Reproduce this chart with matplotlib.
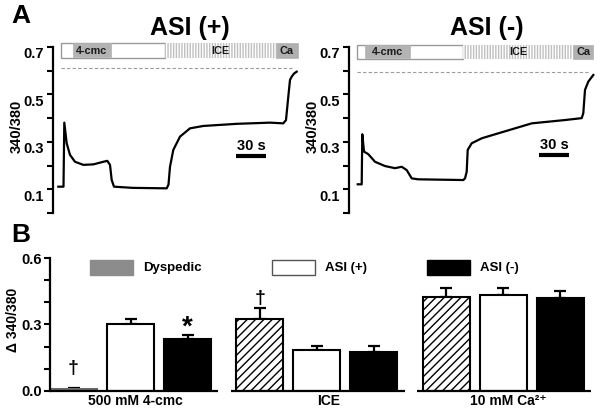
import matplotlib
matplotlib.use("Agg")
import matplotlib.pyplot as plt
from matplotlib.patches import Rectangle
from matplotlib.transforms import ScaledTranslation
import numpy as np

plt.rcParams['font.family'] = ['Liberation Sans', 'DejaVu Sans']
plt.rcParams['font.weight'] = 'bold'
plt.rcParams['hatch.linewidth'] = 1.0

# ---------------- Panel A data (time in s, ratio 340/380) ----------------
t_pos = [5.8, 11.0, 11.8, 14.2, 17.5, 22.5, 30.8, 40.8, 50.8, 54.8, 57.5, 59.2, 61.5,
         80.0, 114.2, 116.0, 117.5, 120.8, 127.5, 137.5, 150.8, 184.2, 217.5, 230.8,
         233.5, 235.8, 237.5, 239.2, 241.5, 244.2]
r_pos = [0.111, 0.111, 0.381, 0.294, 0.245, 0.216, 0.203, 0.205, 0.216, 0.220, 0.203,
         0.139, 0.111, 0.106, 0.104, 0.120, 0.195, 0.266, 0.322, 0.357, 0.367, 0.376,
         0.381, 0.378, 0.392, 0.491, 0.561, 0.575, 0.588, 0.596]

t_neg = [9.2, 13.2, 13.8, 15.5, 19.8, 26.5, 36.5, 46.5, 53.2, 58.2, 63.2, 69.8, 114.8,
         116.5, 118.2, 119.2, 123.2, 133.2, 149.8, 166.5, 183.2, 199.8, 216.5, 233.2,
         234.8, 236.5, 239.8, 244.8]
r_neg = [0.121, 0.121, 0.332, 0.259, 0.248, 0.216, 0.198, 0.189, 0.195, 0.181, 0.146,
         0.142, 0.139, 0.146, 0.174, 0.266, 0.294, 0.315, 0.336, 0.357, 0.378, 0.385,
         0.392, 0.400, 0.421, 0.519, 0.554, 0.582]

dash_pos = 0.610
dash_neg = 0.596

# stimulus protocol (start, end) in s
stim_pos = {'box': (8.0, 112.0), '4-cmc': (20.3, 58.7), 'ICE': (112.0, 223.7), 'Ca': (223.7, 245.3)}
stim_neg = {'box': (8.8, 114.2), '4-cmc': (16.5, 61.5), 'ICE': (114.2, 224.8), 'Ca': (224.8, 244.8)}

# ---------------- Panel B data ----------------
groups = ['500 mM 4-cmc', 'ICE', '10 mM Ca²⁺']
series = ['Dyspedic', 'ASI (+)', 'ASI (-)']
dysp = [0.008, 0.327, 0.426]
dysp_err = [0.003, 0.046, 0.041]
asi_pos = [0.300, 0.183, 0.432]
asi_pos_err = [0.026, 0.021, 0.035]
asi_neg = [0.236, 0.174, 0.422]
asi_neg_err = [0.018, 0.027, 0.030]

W, H = 600, 415
fig = plt.figure(figsize=(6, 4.15), dpi=100)


def fbox(x, y_top, w, h):
    return [x / W, 1 - (y_top + h) / H, w / W, h / H]


def panelA(left_px, t, r, dash, stim, title, title_x):
    ax = fig.add_axes(fbox(left_px, 40, 248, 173))
    ax.set_xlim(0, 248)
    ax.set_ylim(0.0, 0.7295)
    ax.plot(t, r, color='black', lw=1.6, solid_joinstyle='round')
    ax.hlines(dash, stim['box'][0], 239, colors='#9a9a9a', linestyles=(0, (3, 2)), lw=0.8)
    for s in ['top', 'right', 'bottom']:
        ax.spines[s].set_visible(False)
    ax.spines['left'].set_linewidth(1.6)
    ax.spines['left'].set_bounds(0.0, 0.7)
    ax.set_xticks([])
    ax.set_yticks([0.1, 0.3, 0.5, 0.7])
    ax.set_yticks([0.0, 0.2, 0.4, 0.6], minor=True)
    ax.set_yticklabels(['0.1', '0.3', '0.5', '0.7'], fontsize=10.5, fontweight='bold')
    ax.tick_params(axis='y', which='both', length=4, width=1.5, direction='out', pad=2)
    off = ScaledTranslation(0, -6 / 100, fig.dpi_scale_trans)
    for lab in ax.get_yticklabels():
        lab.set_transform(lab.get_transform() + off)
    ax.set_ylabel('340/380', fontsize=10.5, fontweight='bold', labelpad=0)
    # stimulus bar
    y0, y1 = (0.653, 0.716) if dash > 0.6 else (0.649, 0.709)
    h = y1 - y0
    b0, b1 = stim['box']
    ax.add_patch(Rectangle((b0, y0), b1 - b0, h, facecolor='white', edgecolor='#9a9a9a', lw=1.0, clip_on=False))
    c0, c1 = stim['4-cmc']
    ax.add_patch(Rectangle((c0, y0 + 0.004), c1 - c0, h - 0.004, facecolor='#b3b3b3', edgecolor='#b3b3b3', lw=0.5, clip_on=False))
    i0, i1 = stim['ICE']
    ax.add_patch(Rectangle((i0, y0), i1 - i0, h, facecolor='white', edgecolor='#c0c0c0', hatch='||||||', lw=0, clip_on=False))
    a0, a1 = stim['Ca']
    ax.add_patch(Rectangle((a0, y0), a1 - a0, h, facecolor='#b0b0b0', edgecolor='#b0b0b0', lw=0.5, clip_on=False))
    ym = y0 + h / 2
    ax.text((c0 + c1) / 2, ym, '4-cmc', ha='center', va='center', fontsize=7.8, fontweight='bold', color='#1a1a1a')
    ax.text((i0 + i1) / 2, ym, 'ICE', ha='center', va='center', fontsize=7.8, fontweight='bold', color='#1a1a1a')
    ax.text((a0 + a1) / 2, ym, 'Ca', ha='center', va='center', fontsize=7.8, fontweight='bold', color='#1a1a1a')
    fig.text(title_x / W, 1 - 28 / H, title, ha='center', va='center', fontsize=18, fontweight='bold')
    return ax


axL = panelA(52.5, t_pos, r_pos, dash_pos, stim_pos, 'ASI (+)', 190)
axR = panelA(348.5, t_neg, r_neg, dash_neg, stim_neg, 'ASI (-)', 487)

# scale bars
axL.hlines(0.240, 183.5, 213.5, colors='black', lw=3)
axL.text(198.5, 0.283, '30 s', ha='center', va='center', fontsize=10.5, fontweight='bold')
axR.hlines(0.245, 190.5, 220.5, colors='black', lw=3)
axR.text(205.5, 0.288, '30 s', ha='center', va='center', fontsize=10.5, fontweight='bold')

fig.text(21 / W, 1 - 16 / H, 'A', ha='center', va='center', fontsize=19, fontweight='bold')
fig.text(21 / W, 1 - 235 / H, 'B', ha='center', va='center', fontsize=19, fontweight='bold')

# ---------------- Panel B ----------------
axB = fig.add_axes(fbox(50, 250, 545, 140.7))
axB.set_xlim(0, 545 / 57)
axB.set_ylim(0, 0.6376)
gpitch, bw = 3.27, 0.825
styles = [dict(facecolor='white', edgecolor='black', hatch='////'),
          dict(facecolor='white', edgecolor='black'),
          dict(facecolor='black', edgecolor='black')]
vals = [dysp, asi_pos, asi_neg]
errs = [dysp_err, asi_pos_err, asi_neg_err]
for si in range(3):
    xs = np.arange(3) * gpitch + si * 1.0 + bw / 2
    for gi in range(3):
        st = dict(styles[si])
        if si == 0 and gi == 0:
            st = dict(facecolor='#8c8c8c', edgecolor='#6a6a6a')
        axB.bar(xs[gi], vals[si][gi], width=bw, linewidth=1.5, zorder=2, **st)
    axB.errorbar(xs, vals[si], yerr=[np.zeros(3), errs[si]], fmt='none', ecolor='black',
                 elinewidth=1.6, capsize=4.5, capthick=1.6, zorder=1)
for gi in range(3):
    gs = gi * gpitch
    axB.hlines(0, max(gs - 0.1, 0), gs + 2.95, colors='black', lw=1.6, zorder=3, clip_on=False)

# annotations
axB.text(0 * gpitch + bw / 2, 0.10, '†', ha='center', va='center', fontsize=14, fontweight='bold')
axB.text(1 * gpitch + bw / 2, 0.42, '†', ha='center', va='center', fontsize=14, fontweight='bold')
axB.text(0 * gpitch + 2.0 + bw / 2, 0.285, '*', ha='center', va='center', fontsize=20, fontweight='bold')

for s in ['top', 'right', 'bottom']:
    axB.spines[s].set_visible(False)
axB.spines['left'].set_linewidth(1.6)
axB.spines['left'].set_bounds(0, 0.6)
axB.set_xticks([])
axB.set_yticks([0.0, 0.3, 0.6])
axB.set_yticks([0.1, 0.2, 0.4, 0.5], minor=True)
axB.set_yticklabels(['0.0', '0.3', '0.6'], fontsize=10.5, fontweight='bold')
axB.tick_params(axis='y', which='both', length=4, width=1.5, pad=2)
axB.set_ylabel('Δ 340/380', fontsize=10, fontweight='bold', labelpad=1)

label_x = [135, 329, 508]
for gi, g in enumerate(groups):
    fig.text(label_x[gi] / W, 1 - 401 / H, g, ha='center', va='center', fontsize=10, fontweight='bold')

# legend
leg_boxes = [(90, 'Dyspedic', dict(facecolor='#8c8c8c', edgecolor='#8c8c8c')),
             (272, 'ASI (+)', dict(facecolor='white', edgecolor='#555555')),
             (427, 'ASI (-)', dict(facecolor='black', edgecolor='black'))]
for x0, name, st in leg_boxes:
    fig.add_artist(Rectangle((x0 / W, 1 - 275 / H), 43 / W, 15 / H, transform=fig.transFigure, lw=1, **st))
    fig.text((x0 + 53) / W, 1 - 267.5 / H, name, ha='left', va='center', fontsize=9.5, fontweight='bold')

fig.savefig('out.png', dpi=100)
